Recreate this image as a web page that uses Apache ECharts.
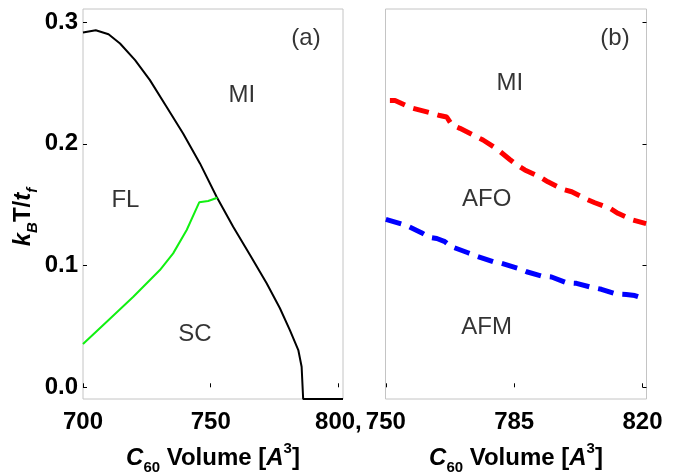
<!DOCTYPE html>
<html>

<head>
    <meta charset="utf-8">
    <title>C60 phase diagram</title>
    <script src="https://cdn.jsdelivr.net/npm/echarts@6/dist/echarts.min.js"></script>
</head>

<body style="margin:0">
    <div id="main" style="width: 689px;height:474px;"></div>
    <script type="text/javascript">
        // tick positions
        var leftXTicks = [700, 750, 800]
        var rightXTicks = [750, 785, 820]
        var yTicks = [0, 0.1, 0.2, 0.3]

        // panel (a): MI boundary (black) and SC boundary (green)
        var miVolume = [700, 705, 710, 714.5, 720.4, 726.2, 732.7, 739.2, 745.8, 752.3, 758.8, 765.4, 771.9, 777.1, 781.0, 784.3, 785.6, 786.2, 801.8]
        var miT = [0.2914, 0.2933, 0.2900, 0.2824, 0.2687, 0.2523, 0.2304, 0.2085, 0.1839, 0.1565, 0.1319, 0.1086, 0.0854, 0.0649, 0.0470, 0.0306, 0.0169, -0.0096, -0.0096]
        var scVolume = [700, 709.3, 719.7, 730.1, 735.3, 740.6, 745.5, 749.0, 752.6]
        var scT = [0.0356, 0.0539, 0.0744, 0.0963, 0.1100, 0.1292, 0.1519, 0.1530, 0.1557]

        // panel (b): AFO boundary (red) and AFM boundary (blue)
        var afoVolume = [751.1, 752.5, 755.2, 757.4, 762.0, 764.7, 766.6, 768.0, 770.2, 774.3, 776.5, 780.3, 783.8, 785.7, 787.9, 792.0, 794.2, 798.3, 800.7, 804.8, 807.0, 811.1, 813.3, 817.4, 821.0]
        var afoT = [0.2355, 0.2355, 0.2318, 0.2291, 0.2255, 0.2232, 0.2220, 0.2154, 0.2127, 0.2064, 0.2031, 0.1957, 0.1871, 0.1826, 0.1785, 0.1729, 0.1688, 0.1626, 0.1606, 0.1544, 0.1516, 0.1470, 0.1429, 0.1374, 0.1345]
        var afmVolume = [750.0, 754.3, 755.6, 759.7, 761.8, 763.9, 766.1, 767.9, 772.4, 774.7, 779.3, 781.6, 786.1, 788.4, 792.5, 795.2, 799.3, 802.0, 806.1, 808.8, 812.9, 815.6, 817.9, 820.2]
        var afmT = [0.1380, 0.1341, 0.1329, 0.1270, 0.1232, 0.1222, 0.1196, 0.1155, 0.1105, 0.1078, 0.1031, 0.1018, 0.0977, 0.0949, 0.0914, 0.0906, 0.0859, 0.0854, 0.0821, 0.0805, 0.0766, 0.0762, 0.0754, 0.0731]

        // region labels
        var leftNames = ["MI", "FL", "SC", "(a)"]
        var leftNameX = [762.2, 716.6, 743.8, 787.3]
        var leftNameY = [0.2399, 0.1534, 0.0438, 0.2869]
        var rightNames = ["MI", "AFO", "AFM", "(b)"]
        var rightNameX = [783.8, 777.5, 777.5, 812.5]
        var rightNameY = [0.2499, 0.1546, 0.0489, 0.2869]

        function zip(xs, ys) {
            return xs.map(function (x, i) { return [x, ys[i]] })
        }
        function zipNames(xs, ys, names) {
            return xs.map(function (x, i) { return [x, ys[i], names[i]] })
        }

        var font = "Liberation Sans"
        var xName = "{i|C}{s|60}{n| Volume [}{i|A}{p|3}{n|]}"
        var nameRich = {
            n: { fontSize: 24, fontWeight: "bold", fontFamily: font, color: "#000", lineHeight: 34 },
            i: { fontSize: 24, fontWeight: "bold", fontStyle: "italic", fontFamily: font, color: "#000", lineHeight: 34 },
            s: { fontSize: 15, fontWeight: "bold", fontFamily: font, color: "#000", lineHeight: 24, verticalAlign: "bottom" },
            si: { fontSize: 15, fontWeight: "bold", fontStyle: "italic", fontFamily: font, color: "#000", lineHeight: 24, verticalAlign: "bottom" },
            p: { fontSize: 15, fontWeight: "bold", fontFamily: font, color: "#000", lineHeight: 10, verticalAlign: "top" }
        }

        var tick = { show: true, inside: true, length: 4, lineStyle: { color: "#000", width: 1 } }

        var myChart = echarts.init(document.getElementById("main"))
        var option = {
            animation: false,
            backgroundColor: "#fff",
            grid: [
                { left: 83, top: 9, width: 260, height: 390, show: true, borderColor: "#c4c4c4", borderWidth: 1, outerBoundsMode: "none" },
                { left: 385.5, top: 9, width: 261, height: 390, show: true, borderColor: "#c4c4c4", borderWidth: 1, outerBoundsMode: "none" }
            ],
            xAxis: [
                {
                    gridIndex: 0, type: "value", min: 700, max: 801.8,
                    axisLine: { show: false },
                    axisTick: Object.assign({ customValues: leftXTicks }, tick),
                    splitLine: { show: false },
                    axisLabel: {
                        customValues: leftXTicks, margin: 11, fontSize: 24, fontWeight: "bold", fontFamily: font, color: "#000",
                        formatter: function (v) { return v === 800 ? "800," : String(v) }
                    },
                    name: xName, nameLocation: "middle", nameGap: 42,
                    nameTextStyle: { rich: nameRich }
                },
                {
                    gridIndex: 1, type: "value", min: 749.9, max: 821.1,
                    axisLine: { show: false },
                    axisTick: Object.assign({ customValues: rightXTicks }, tick),
                    splitLine: { show: false },
                    axisLabel: {
                        customValues: rightXTicks, margin: 11, fontSize: 24, fontWeight: "bold", fontFamily: font, color: "#000"
                    },
                    name: xName, nameLocation: "middle", nameGap: 42,
                    nameTextStyle: { rich: nameRich }
                }
            ],
            yAxis: [
                {
                    gridIndex: 0, type: "value", min: -0.0096, max: 0.3107,
                    axisLine: { show: false },
                    axisTick: Object.assign({ customValues: yTicks }, tick),
                    splitLine: { show: false },
                    axisLabel: {
                        customValues: yTicks, margin: 5, fontSize: 24, fontWeight: "bold", fontFamily: font, color: "#000",
                        formatter: function (v) { return v.toFixed(1) }
                    },
                    name: "{i|k}{si|B}{n|T/}{i|t}{si|f}", nameLocation: "middle", nameGap: 42,
                    nameTextStyle: { rich: nameRich, padding: [0, 26, 0, 0] }
                },
                {
                    gridIndex: 1, type: "value", min: -0.0096, max: 0.3107, position: "right",
                    axisLine: { show: false },
                    axisTick: Object.assign({ customValues: yTicks }, tick),
                    splitLine: { show: false },
                    axisLabel: { show: false }
                }
            ],
            series: [
                {
                    type: "line", xAxisIndex: 0, yAxisIndex: 0, data: zip(miVolume, miT),
                    showSymbol: false, lineStyle: { color: "#000", width: 2 }
                },
                {
                    type: "line", xAxisIndex: 0, yAxisIndex: 0, data: zip(scVolume, scT),
                    showSymbol: false, lineStyle: { color: "#11f011", width: 2 }
                },
                {
                    type: "line", xAxisIndex: 1, yAxisIndex: 1, data: zip(afoVolume, afoT),
                    showSymbol: false, lineStyle: { color: "#ff0000", width: 5, type: [16, 9] }
                },
                {
                    type: "line", xAxisIndex: 1, yAxisIndex: 1, data: zip(afmVolume, afmT),
                    showSymbol: false, lineStyle: { color: "#0000ff", width: 5, type: [16, 9] }
                },
                {
                    type: "scatter", xAxisIndex: 0, yAxisIndex: 0, symbolSize: 0, silent: true,
                    data: zipNames(leftNameX, leftNameY, leftNames),
                    label: {
                        show: true, position: "inside", fontSize: 24, fontFamily: font, color: "#000", textBorderWidth: 0,
                        formatter: function (p) { return p.data[2] }
                    }
                },
                {
                    type: "scatter", xAxisIndex: 1, yAxisIndex: 1, symbolSize: 0, silent: true,
                    data: zipNames(rightNameX, rightNameY, rightNames),
                    label: {
                        show: true, position: "inside", fontSize: 24, fontFamily: font, color: "#000", textBorderWidth: 0,
                        formatter: function (p) { return p.data[2] }
                    }
                }
            ]
        }
        myChart.setOption(option)
    </script>
</body>

</html>
